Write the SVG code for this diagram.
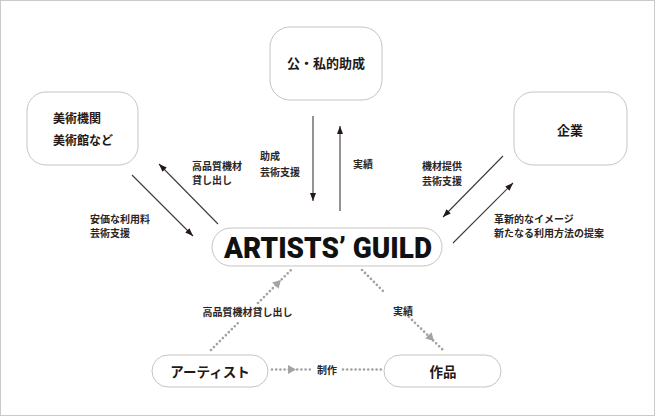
<svg xmlns="http://www.w3.org/2000/svg" xmlns:xlink="http://www.w3.org/1999/xlink" width="655" height="416" viewBox="0 0 655 416">
<style>
.box{fill:#fff;stroke:#c8c3bf;stroke-width:1}
.bt{font-family:"Noto Sans CJK JP","Noto Sans",sans-serif;font-weight:bold;fill:#231815}
.lb{font-family:"Noto Sans CJK JP","Noto Sans",sans-serif;font-weight:bold;font-size:10px;fill:#2a2522}
.sl{stroke:#3e3a39;stroke-width:1.1;fill:none;marker-end:url(#ah)}
.dl{stroke:#a3a3a3;stroke-width:2.7;stroke-linecap:round;stroke-dasharray:0 4.2;fill:none}
.gt{fill:#a3a3a3}
</style>
<defs>
<marker id="ah" viewBox="0 0 8 6" refX="8" refY="3" markerWidth="8" markerHeight="6" markerUnits="userSpaceOnUse" orient="auto">
<path d="M0,0 L8,3 L0,6 z" fill="#231815"/>
</marker>
<polygon id="gtri" points="0,0 -8,-4.5 -8,4.5"/>
</defs>
<rect x="0.5" y="0.5" width="654" height="415" fill="#fff" stroke="#cacaca"/>

<g id="connectors">
<line class="sl" x1="132" y1="175" x2="193" y2="236"/>
<line class="sl" x1="218" y1="224" x2="159" y2="164"/>
<line class="sl" x1="313" y1="116" x2="313" y2="201"/>
<line class="sl" x1="340" y1="211" x2="340" y2="126"/>
<line class="sl" x1="503" y1="156" x2="443" y2="217"/>
<line class="sl" x1="453" y1="243" x2="513" y2="183"/>

<path class="dl" d="M211,350 L240,321 M258,303 L291,270"/>
<use xlink:href="#gtri" class="gt" transform="translate(281,280) rotate(-45)"/>
<path class="dl" d="M362,270 L383,291 M409,317 L443,350"/>
<use xlink:href="#gtri" class="gt" transform="translate(434,341) rotate(45)"/>
<path class="dl" d="M272,369.5 L311,369.5 M343,369.5 L381,369.5"/>
<use xlink:href="#gtri" class="gt" transform="translate(296,369.5)"/>

<text class="lb" x="192" y="170">高品質機材</text>
<text class="lb" x="192" y="184">貸し出し</text>
<text class="lb" x="260" y="160">助成</text>
<text class="lb" x="260" y="176">芸術支援</text>
<text class="lb" x="353" y="168">実績</text>
<text class="lb" x="422" y="170">機材提供</text>
<text class="lb" x="422" y="185">芸術支援</text>
<text class="lb" x="90" y="223">安価な利用料</text>
<text class="lb" x="90" y="237">芸術支援</text>
<text class="lb" x="494" y="223">革新的なイメージ</text>
<text class="lb" x="494" y="237">新たなる利用方法の提案</text>
<text class="lb" x="247.5" y="316" text-anchor="middle">高品質機材貸し出し</text>
<text class="lb" x="403" y="315" text-anchor="middle">実績</text>
<text class="lb" x="327" y="373.5" text-anchor="middle">制作</text>
</g>

<g id="node-public">
<rect class="box" x="270" y="27" width="112" height="73" rx="20"/>
<text class="bt" x="326" y="68" font-size="13" text-anchor="middle">公・私的助成</text>
</g>
<g id="node-museum">
<rect class="box" x="27" y="92" width="111" height="73" rx="19"/>
<text class="bt" x="53" y="122.5" font-size="12">美術機関</text>
<text class="bt" x="53" y="144.5" font-size="12">美術館など</text>
</g>
<g id="node-company">
<rect class="box" x="514" y="92" width="113" height="73" rx="19"/>
<text class="bt" x="570" y="134.5" font-size="13" text-anchor="middle">企業</text>
</g>
<g id="node-guild">
<rect class="box" x="212" y="228" width="230" height="38" rx="19"/>
<text x="328" y="258" font-family="Roboto,'Liberation Sans',sans-serif" font-weight="900" font-size="29" fill="#111" text-anchor="middle" textLength="208" lengthAdjust="spacingAndGlyphs">ARTISTS’ GUILD</text>
</g>
<g id="node-artist">
<rect class="box" x="152" y="355" width="116" height="32" rx="16"/>
<text class="bt" x="210" y="376.5" font-size="13.5" font-weight="500" text-anchor="middle">アーティスト</text>
</g>
<g id="node-work">
<rect class="box" x="384" y="355" width="117" height="32" rx="16"/>
<text class="bt" x="443" y="376.5" font-size="13.5" font-weight="500" text-anchor="middle">作品</text>
</g>
</svg>
